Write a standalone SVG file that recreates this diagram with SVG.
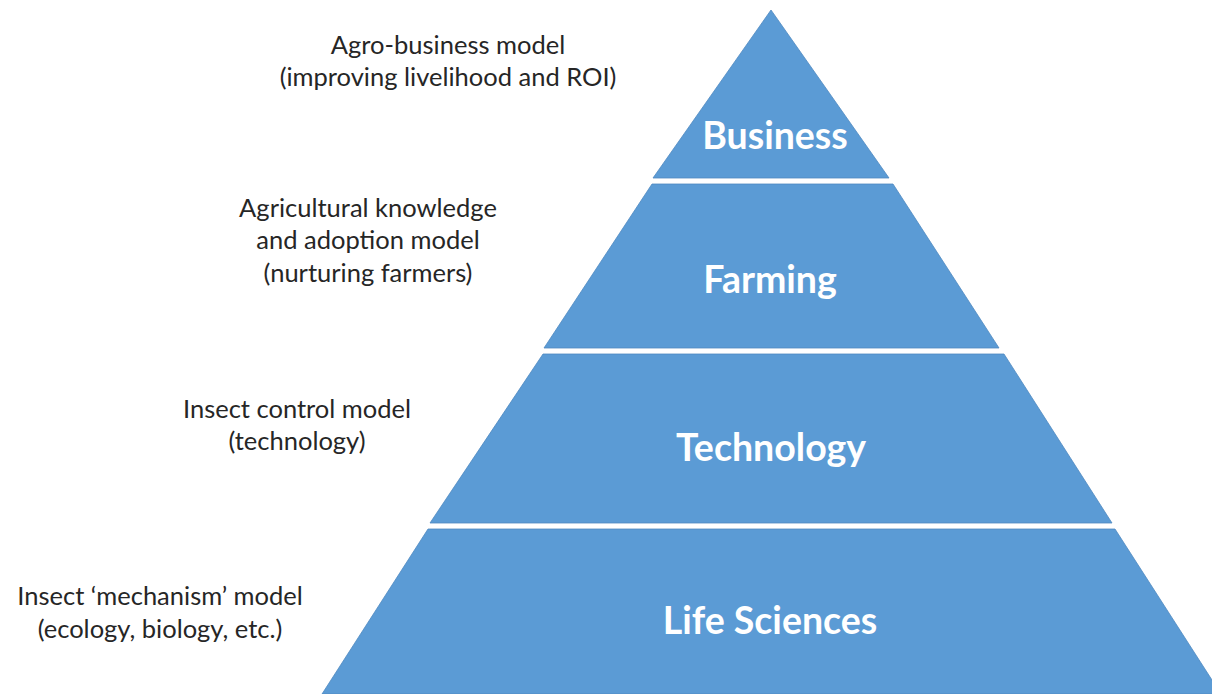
<svg xmlns="http://www.w3.org/2000/svg" width="1212" height="694" viewBox="0 0 1212 694">
  <style>
    .layer { fill: #5B9BD5; stroke: #4F89C0; stroke-width: 0.8; }
    .tier { font-family: Lato, "Open Sans", "Liberation Sans", sans-serif; font-weight: 700; font-size: 37.5px; fill: #FFFFFF; text-anchor: middle; }
    .note { font-family: Lato, "Open Sans", "Liberation Sans", sans-serif; font-size: 25.5px; fill: #262626; text-anchor: middle; }
  </style>
  <rect width="1212" height="694" fill="#FFFFFF"/>

  <!-- pyramid tiers, top to bottom -->
  <g id="business">
    <polygon class="layer" points="771,10 889,178 653,178"/>
    <text class="tier" x="775" y="149">Business</text>
  </g>
  <g id="farming">
    <polygon class="layer" points="652,184 893,184 999,348 544,348"/>
    <text class="tier" x="770" y="293">Farming</text>
  </g>
  <g id="technology">
    <polygon class="layer" points="543,354 1004,354 1112,523 430,523"/>
    <text class="tier" x="771" y="461">Technology</text>
  </g>
  <g id="life-sciences">
    <polygon class="layer" points="428,529 1115,529 1221,694 322,694"/>
    <text class="tier" x="770" y="634">Life Sciences</text>
  </g>

  <!-- model descriptions beside each tier -->
  <g id="agro-business-note">
    <text class="note" x="448" y="54">Agro-business model</text>
    <text class="note" x="448" y="86">(improving livelihood and ROI)</text>
  </g>
  <g id="agricultural-note">
    <text class="note" x="368" y="217">Agricultural knowledge</text>
    <text class="note" x="368" y="249">and adoption model</text>
    <text class="note" x="368" y="282">(nurturing farmers)</text>
  </g>
  <g id="insect-control-note">
    <text class="note" x="297" y="418">Insect control model</text>
    <text class="note" x="297" y="450">(technology)</text>
  </g>
  <g id="mechanism-note">
    <text class="note" x="160" y="605">Insect ‘mechanism’ model</text>
    <text class="note" x="160" y="638">(ecology, biology, etc.)</text>
  </g>

  <g id="connectors"/>
</svg>
